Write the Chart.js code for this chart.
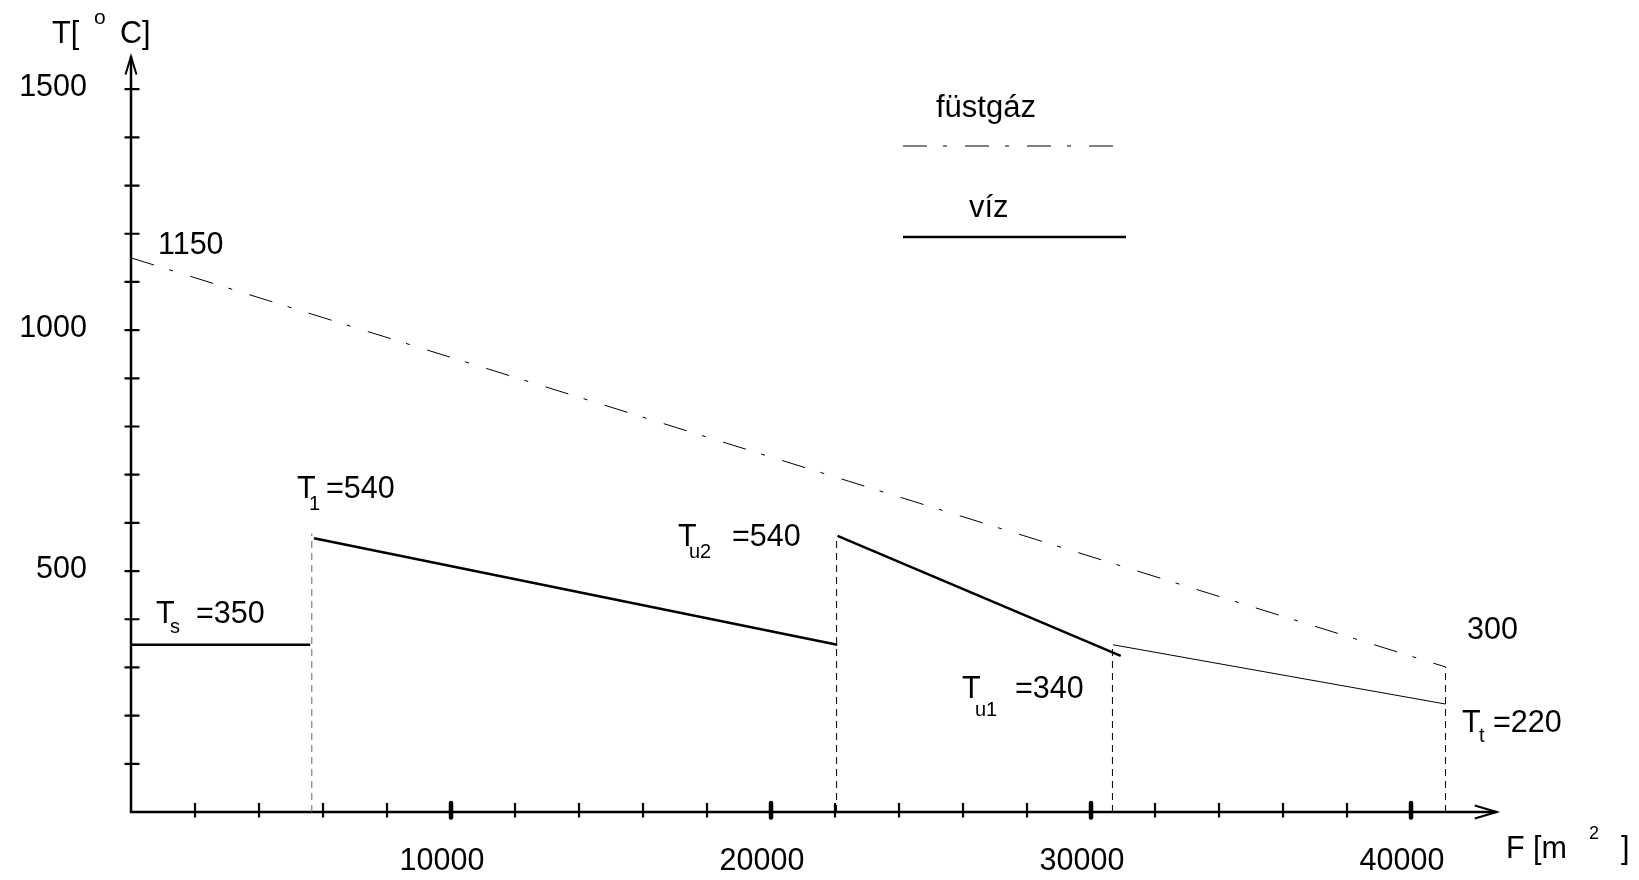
<!DOCTYPE html>
<html>
<head>
<meta charset="utf-8">
<script src="https://cdn.jsdelivr.net/npm/chart.js@4"></script>
<style>
    body { margin: 0; background: #fff; }
    canvas { display: block; }
</style>
</head>
<body>
<canvas id="chart" width="1639" height="880"></canvas>
<script>
// füstgáz (flue gas) line, F [m2] -> T [oC]
const gasF = [0, 41080];
const gasT = [1150, 301];

// víz (water) pieces
const tsF = [0, 5600];
const tsT = [347, 347];
const seg1F = [5720, 22070];
const seg1T = [568, 347];
const seg2F = [22080, 30930];
const seg2T = [573, 324];
const seg3F = [30690, 41080];
const seg3T = [347, 224];

// dashed drop lines down to the axis
const dropF = [5650, 22050, 30670, 41080];
const dropT = [578, 573, 347, 301];

// axes
const xMinorStep = 2000;
const xTickMax = 40000;
const xMajor = [10000, 20000, 30000, 40000];
const xMajorLabels = ['10000', '20000', '30000', '40000'];
const yMinorStep = 100;
const yTickMax = 1500;
const yLabeled = [500, 1000, 1500];
const yLabels = ['500', '1000', '1500'];
const xAxisEnd = 42680;
const yAxisEnd = 1568;

const FONT = "'Liberation Sans', Arial, sans-serif";

function pts(xs, ys) {
    return xs.map((x, i) => ({ x: x, y: ys[i] }));
}

function lineSet(xs, ys, width, dash, color) {
    return {
        data: pts(xs, ys),
        showLine: true,
        borderColor: color || '#000',
        borderWidth: width,
        borderDash: dash || [],
        pointRadius: 0,
        tension: 0,
        fill: false,
    };
}

const datasets = [];
dropF.forEach((f, i) => {
    datasets.push(lineSet([f, f], [0, dropT[i]], 1, [7, 5], i === 0 ? '#666' : '#000'));
});
datasets.push(lineSet(tsF, tsT, 2.5));
datasets.push(lineSet(seg1F, seg1T, 2.5));
datasets.push(lineSet(seg2F, seg2T, 2.5));
datasets.push(lineSet(seg3F, seg3T, 1));
datasets.push(lineSet(gasF, gasT, 1, [24, 16, 4, 18]));

const texts = [
    ['T[', 52, 43, 30.5], ['o', 94, 24, 21], ['C]', 120, 43, 30.5],
    ['1150', 158, 254, 30.5],
    ['300', 1467, 639, 30.5],
    ['T', 156, 623, 30.5], ['s', 170, 633, 20], ['=350', 196, 623, 30.5],
    ['T', 297, 498, 30.5], ['1', 309, 510, 20], ['=540', 326, 498, 30.5],
    ['T', 678, 546, 30.5], ['u2', 689, 558, 20], ['=540', 732, 546, 30.5],
    ['T', 962, 698, 30.5], ['u1', 975, 716, 20], ['=340', 1015, 698, 30.5],
    ['T', 1462, 732, 30.5], ['t', 1479, 742, 20], ['=220', 1493, 732, 30.5],
    ['F [m', 1506, 858, 30.5], ['2', 1589, 839, 18], [']', 1621, 858, 30.5],
    ['füstgáz', 936, 117, 31], ['víz', 969, 217, 31],
];

const axesPlugin = {
    id: 'axesPlugin',
    beforeDatasetsDraw(chart) {
        const ctx = chart.ctx;
        const xs = chart.scales.x;
        const ys = chart.scales.y;
        const x0 = xs.getPixelForValue(0);
        const y0 = ys.getPixelForValue(0);
        const xEnd = xs.getPixelForValue(xAxisEnd);
        const yEnd = ys.getPixelForValue(yAxisEnd);
        ctx.save();
        ctx.strokeStyle = '#000';
        ctx.lineWidth = 2.5;
        ctx.lineCap = 'butt';
        ctx.beginPath();
        ctx.moveTo(x0, y0 + 1);
        ctx.lineTo(x0, yEnd);
        ctx.moveTo(x0 - 1, y0);
        ctx.lineTo(xEnd, y0);
        ctx.stroke();
        // arrow heads
        ctx.lineWidth = 2;
        ctx.beginPath();
        ctx.moveTo(x0 - 5.5, yEnd + 18);
        ctx.lineTo(x0, yEnd);
        ctx.lineTo(x0 + 5.5, yEnd + 18);
        ctx.moveTo(xEnd - 22, y0 - 6.5);
        ctx.lineTo(xEnd, y0);
        ctx.lineTo(xEnd - 22, y0 + 6.5);
        ctx.stroke();
        // y ticks
        ctx.lineWidth = 2.2;
        ctx.beginPath();
        for (let v = yMinorStep; v <= yTickMax; v += yMinorStep) {
            const p = ys.getPixelForValue(v);
            ctx.moveTo(x0 - 6.5, p);
            ctx.lineTo(x0 + 8.5, p);
        }
        ctx.stroke();
        // x ticks
        for (let v = xMinorStep; v <= xTickMax; v += xMinorStep) {
            const p = xs.getPixelForValue(v);
            const major = xMajor.includes(v);
            ctx.lineWidth = major ? 4.5 : 2.2;
            ctx.lineCap = major ? 'round' : 'butt';
            ctx.beginPath();
            ctx.moveTo(p, y0 - 9);
            ctx.lineTo(p, y0 + 5.5);
            ctx.stroke();
        }
        ctx.restore();
    },
    afterDraw(chart) {
        const ctx = chart.ctx;
        const xs = chart.scales.x;
        const ys = chart.scales.y;
        ctx.save();
        ctx.fillStyle = '#000';
        ctx.textBaseline = 'alphabetic';
        ctx.font = '30.5px ' + FONT;
        ctx.textAlign = 'right';
        yLabeled.forEach((v, i) => {
            ctx.fillText(yLabels[i], 87, ys.getPixelForValue(v) + 7);
        });
        ctx.textAlign = 'center';
        xMajor.forEach((v, i) => {
            ctx.fillText(xMajorLabels[i], xs.getPixelForValue(v) - 9, 870);
        });
        ctx.textAlign = 'left';
        texts.forEach((t) => {
            ctx.font = t[3] + 'px ' + FONT;
            ctx.fillText(t[0], t[1], t[2]);
        });
        // legend samples
        ctx.strokeStyle = '#000';
        ctx.lineWidth = 1;
        ctx.setLineDash([24, 16, 4, 18]);
        ctx.beginPath();
        ctx.moveTo(903, 146);
        ctx.lineTo(1128, 146);
        ctx.stroke();
        ctx.setLineDash([]);
        ctx.lineWidth = 2.5;
        ctx.beginPath();
        ctx.moveTo(903, 237);
        ctx.lineTo(1126, 237);
        ctx.stroke();
        ctx.restore();
    },
};

new Chart(document.getElementById('chart'), {
    type: 'scatter',
    data: { datasets: datasets },
    options: {
        responsive: false,
        animation: false,
        devicePixelRatio: 1,
        layout: { padding: { left: 131, right: 68, top: 41, bottom: 68 } },
        plugins: { legend: { display: false }, tooltip: { enabled: false } },
        scales: {
            x: { type: 'linear', display: false, min: 0, max: 45000 },
            y: { type: 'linear', display: false, min: 0, max: 1600 },
        },
    },
    plugins: [axesPlugin],
});
</script>
</body>
</html>
